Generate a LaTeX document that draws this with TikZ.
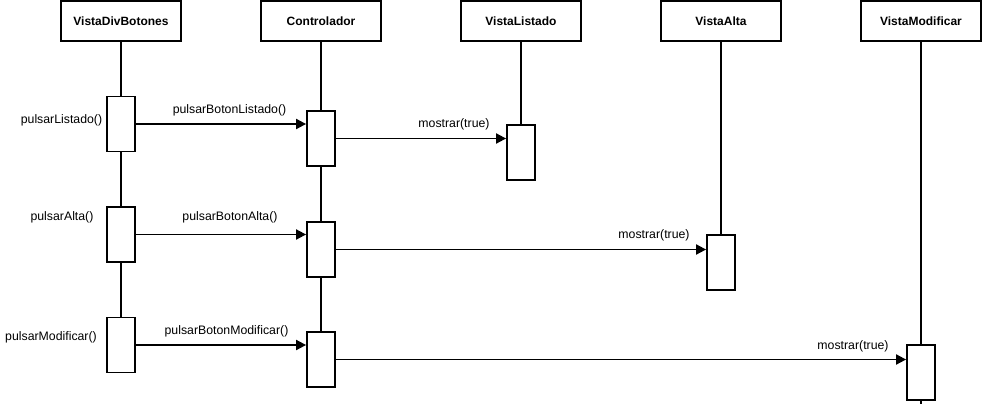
\documentclass[tikz,border=0pt]{standalone}
\usepackage{fontspec}
\setmainfont{Liberation Sans}
\usepackage{tikz}
\usetikzlibrary{arrows.meta, positioning}

\begin{document}
\begin{tikzpicture}[x=1pt, y=-1pt, line width=1.8pt,
        clase/.style={rectangle, draw, fill=white, minimum width=120pt, minimum height=40pt, font=\fontsize{12}{14}\selectfont\bfseries},
        activ/.style={rectangle, draw, fill=white, minimum width=28pt, minimum height=55pt, inner sep=0pt},
        etiq/.style={font=\fontsize{12.3}{14}\selectfont, inner sep=0pt},
        msg/.style={-{Triangle[length=10pt, width=10pt]}}]
        \useasboundingbox (0, 0) rectangle (982, 404);

        % objetos
        \node[clase] (vdb) at (121, 21) {VistaDivBotones};
        \node[clase] (ctl) at (321, 21) {Controlador};
        \node[clase] (vl) at (521, 21) {VistaListado};
        \node[clase] (va) at (721, 21) {VistaAlta};
        \node[clase] (vm) at (921, 21) {VistaModificar};

        % activaciones
        \node[activ] (vdb1) at (121, 124) {};
        \node[activ] (vdb2) at (121, 234.5) {};
        \node[activ] (vdb3) at (121, 345) {};
        \node[activ] (ctl1) at (321, 138.5) {};
        \node[activ] (ctl2) at (321, 249.5) {};
        \node[activ] (ctl3) at (321, 359.5) {};
        \node[activ] (vl1) at (521, 152.5) {};
        \node[activ] (va1) at (721, 262.5) {};
        \node[activ] (vm1) at (921, 372.5) {};
        \coordinate (fin) at (921, 404);

        % lineas de vida
        \draw (vdb) to (vdb1)
            (vdb1) to (vdb2)
            (vdb2) to (vdb3)
            (ctl) to (ctl1)
            (ctl1) to (ctl2)
            (ctl2) to (ctl3)
            (vl) to (vl1)
            (va) to (va1)
            (vm) to (vm1)
            (vm1) to (fin);

        % mensajes
        \draw[msg] (vdb1.east) -- (vdb1.east -| ctl1.west);
        \draw[msg] (ctl1.east) -- (ctl1.east -| vl1.west);
        \draw[msg] (vdb2.east) -- (vdb2.east -| ctl2.west);
        \draw[msg] (ctl2.east) -- (ctl2.east -| va1.west);
        \draw[msg] (vdb3.east) -- (vdb3.east -| ctl3.west);
        \draw[msg] (ctl3.east) -- (ctl3.east -| vm1.west);

        % etiquetas
        \node[etiq] (l1) at (61.5, 120) {pulsarListado()};
        \node[etiq] (l2) at (62, 217) {pulsarAlta()};
        \node[etiq] (l3) at (51, 337) {pulsarModificar()};
        \node[etiq] (m1) at (229.5, 110) {pulsarBotonListado()};
        \node[etiq] (m2) at (230, 217) {pulsarBotonAlta()};
        \node[etiq] (m3) at (226.5, 331) {pulsarBotonModificar()};
        \node[etiq] (s1) at (454, 124) {mostrar(true)};
        \node[etiq] (s2) at (654, 235) {mostrar(true)};
        \node[etiq] (s3) at (853, 346) {mostrar(true)};
    \end{tikzpicture}
\end{document}
